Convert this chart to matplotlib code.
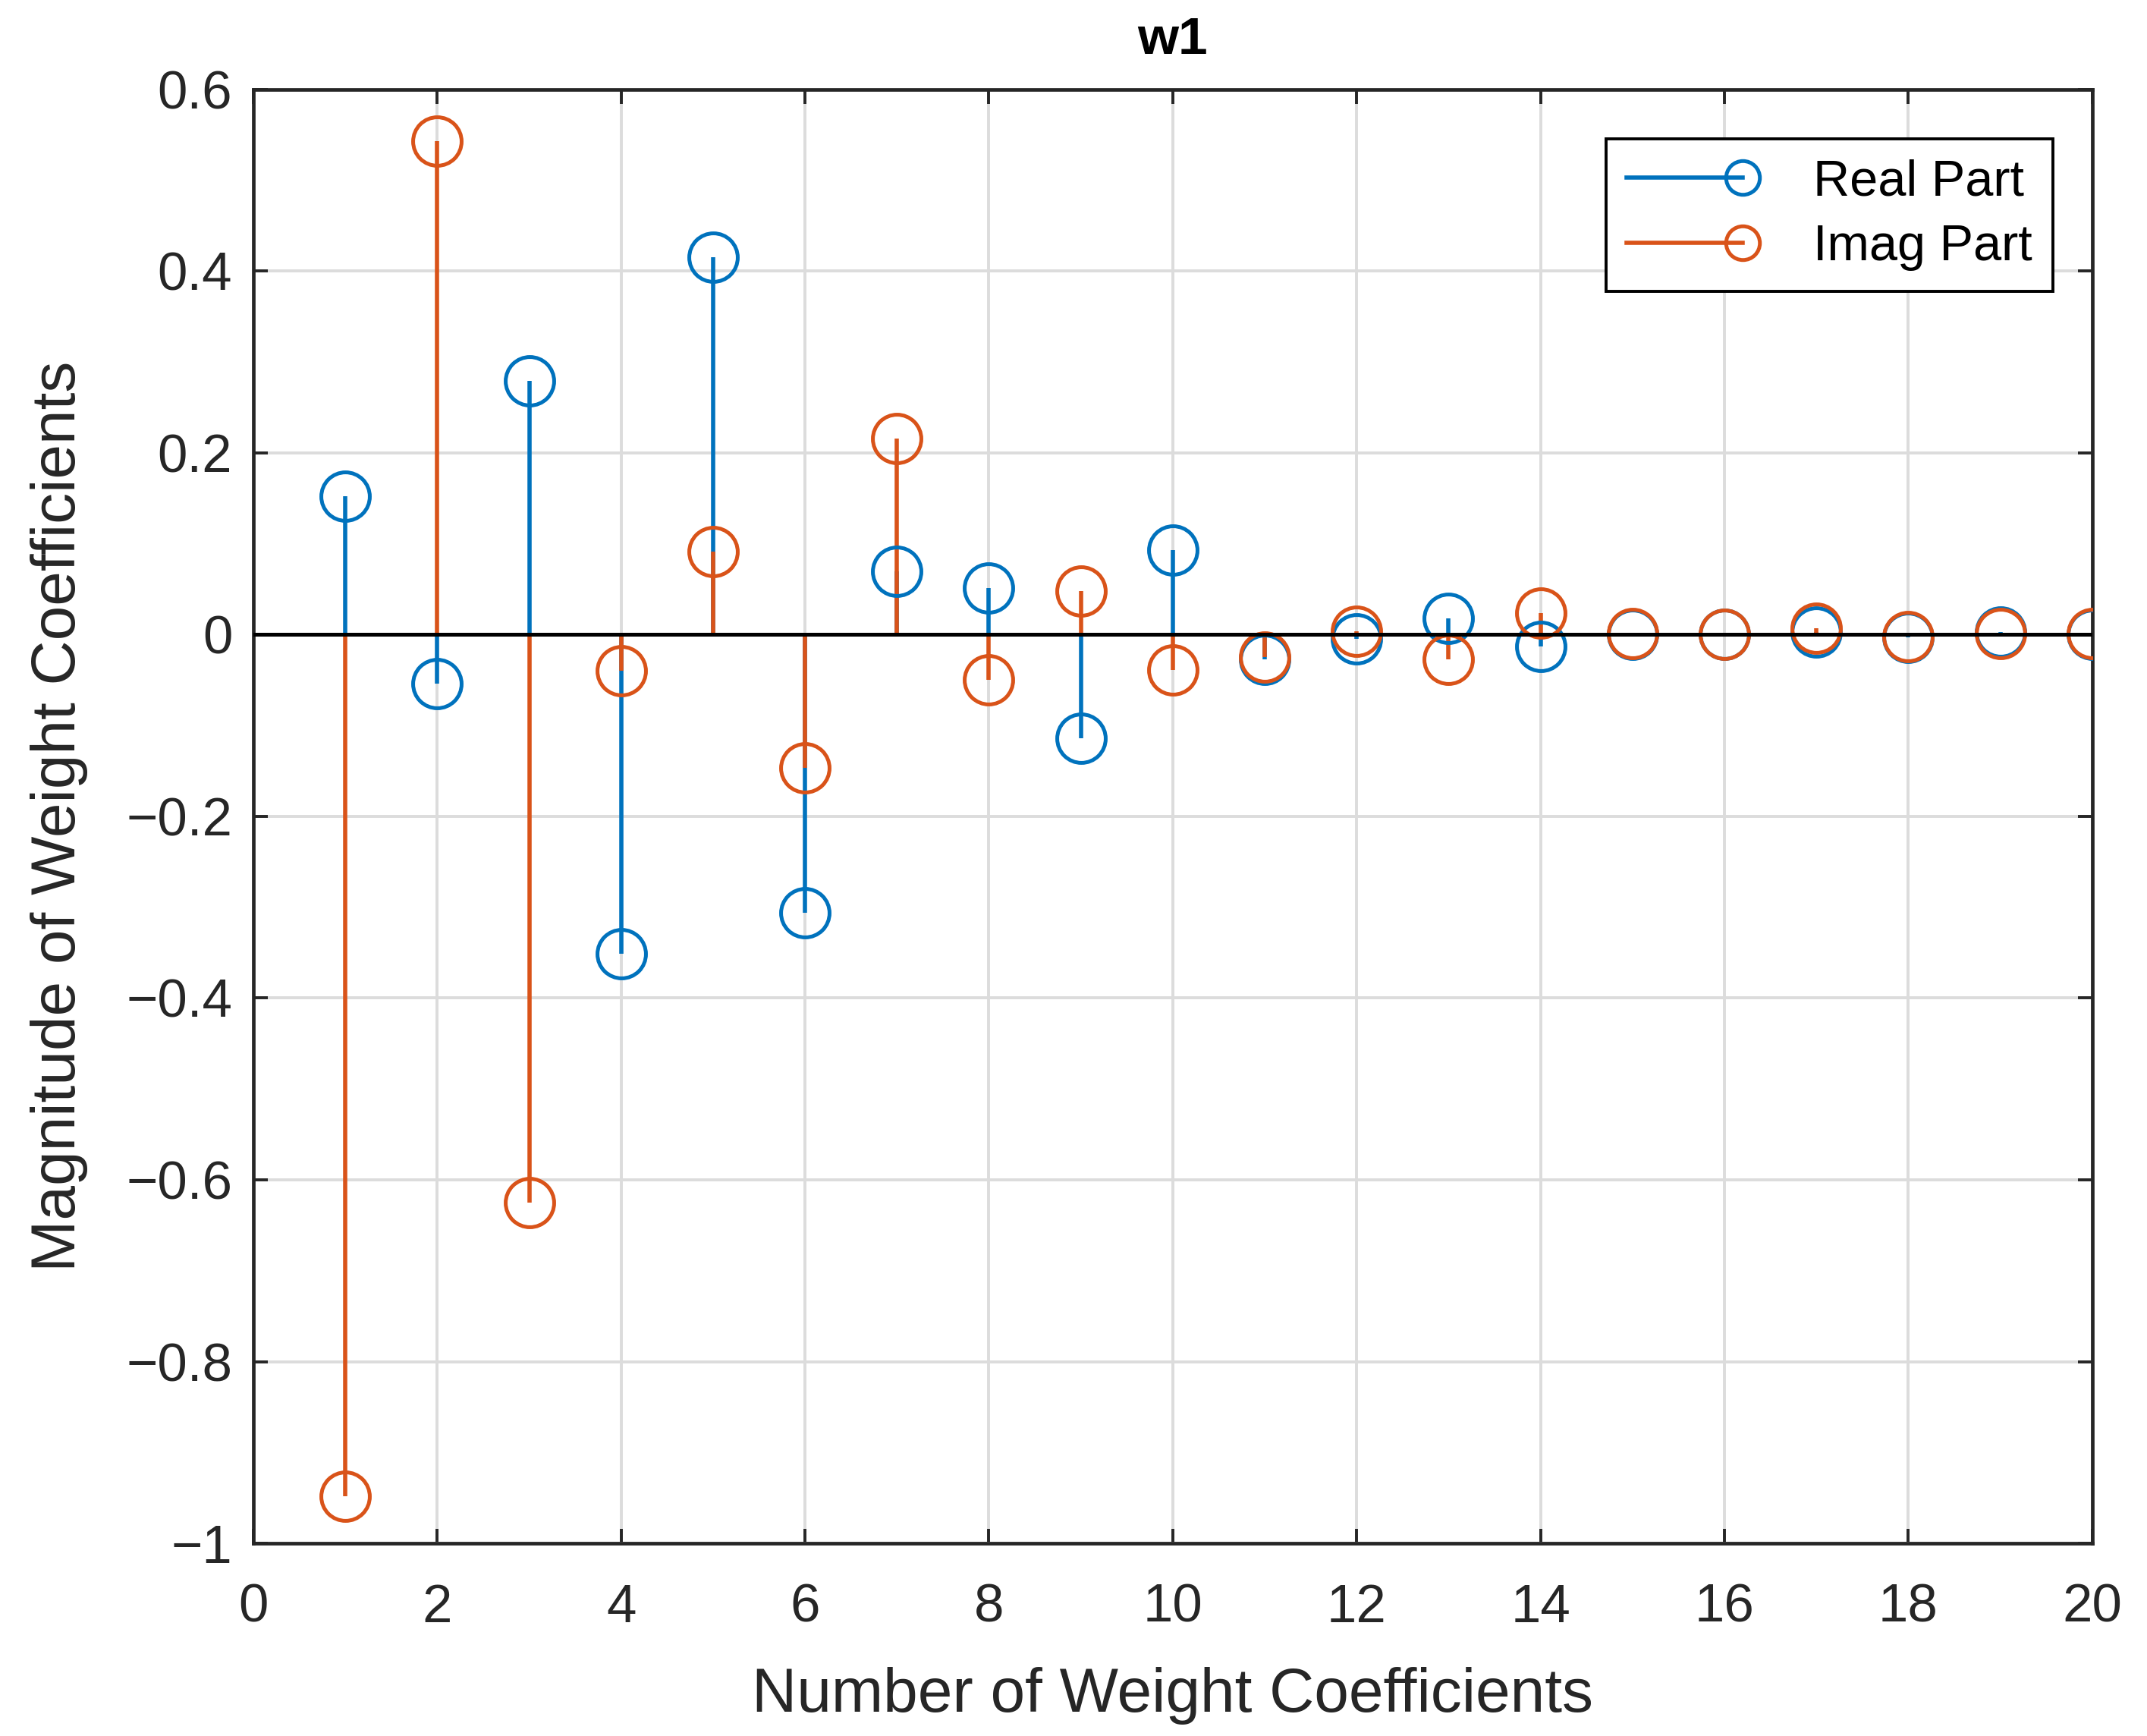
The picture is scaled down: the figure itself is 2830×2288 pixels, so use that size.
import matplotlib
matplotlib.use("Agg")
import matplotlib.pyplot as plt
from matplotlib.lines import Line2D
from matplotlib.legend_handler import HandlerBase

plt.rcParams['font.family'] = ['Liberation Sans', 'DejaVu Sans']

# ---- data ----
coef_index = list(range(1, 21))
real_part = [0.152, -0.054, 0.279, -0.351, 0.415, -0.306, 0.070, 0.051, -0.114, 0.093,
             -0.027, -0.005, 0.018, -0.013, 0.000, 0.000, 0.003, -0.003, 0.003, 0.000]
imag_part = [-0.948, 0.543, -0.625, -0.040, 0.091, -0.147, 0.216, -0.050, 0.048, -0.039,
             -0.025, 0.004, -0.027, 0.024, 0.001, 0.000, 0.007, -0.002, 0.001, 0.001]
x_ticks = [0, 2, 4, 6, 8, 10, 12, 14, 16, 18, 20]
y_ticks = [-1, -0.8, -0.6, -0.4, -0.2, 0, 0.2, 0.4, 0.6]
y_tick_labels = ['\u22121', '\u22120.8', '\u22120.6', '\u22120.4', '\u22120.2', '0', '0.2', '0.4', '0.6']
series_names = ['Real Part', 'Imag Part']

blue = '#0072BD'
orange = '#D95319'
axcol = '#262626'


class StemLegendHandler(HandlerBase):
    def create_artists(self, legend, orig_handle, xdescent, ydescent, width, height,
                       fontsize, trans):
        y = height / 2.0 - ydescent
        x0 = -xdescent
        x1 = -xdescent + width
        col = orig_handle.get_color()
        line = Line2D([x0, x1], [y, y], color=col, linewidth=orig_handle.get_linewidth())
        mk = Line2D([x1], [y], linestyle='none', marker='o',
                    markersize=orig_handle.get_markersize(),
                    markerfacecolor='none', markeredgecolor=col,
                    markeredgewidth=orig_handle.get_markeredgewidth())
        line.set_transform(trans)
        mk.set_transform(trans)
        return [line, mk]


fig = plt.figure(figsize=(14.15, 11.44), dpi=200)
ax = fig.add_axes([0.118, 0.111, 0.8565, 0.8375])

ms = 23
mew = 1.8
lw = 2.0
for vals, col in [(real_part, blue), (imag_part, orange)]:
    ml, sl, bl = ax.stem(coef_index, vals, basefmt=' ')
    plt.setp(sl, color=col, linewidth=lw, zorder=3)
    plt.setp(ml, marker='o', markersize=ms, markerfacecolor='none',
             markeredgecolor=col, markeredgewidth=mew, zorder=4)
    bl.set_visible(False)

ax.axhline(0, color='black', linewidth=1.8, zorder=5)

ax.set_xlim(0, 20)
ax.set_ylim(-1, 0.6)
ax.set_xticks(x_ticks)
ax.set_yticks(y_ticks)
ax.set_yticklabels(y_tick_labels)

ax.grid(True, color='#DCDCDC', linewidth=1.4)
ax.set_axisbelow(True)
ax.tick_params(direction='in', length=7, width=1.4, colors=axcol,
               labelsize=25.5, top=True, right=True, pad=10)
ax.tick_params(axis='x', pad=19)
for sp in ax.spines.values():
    sp.set_color(axcol)
    sp.set_linewidth(1.7)

ax.set_xlabel('Number of Weight Coefficients', fontsize=29.5, color=axcol, labelpad=16)
ax.set_ylabel('Magnitude of Weight Coefficients', fontsize=29.5, color=axcol, labelpad=18)
ax.set_title('w1', fontsize=25, fontweight='bold', color='black', pad=17)

handles = []
for name, col in zip(series_names, [blue, orange]):
    h = Line2D([0, 1], [0, 0], color=col, linewidth=lw, marker='o', markersize=16,
               markerfacecolor='none', markeredgecolor=col, markeredgewidth=mew,
               label=name)
    handles.append(h)
leg = ax.legend(handles=handles, loc='upper right', fontsize=24,
                handler_map={Line2D: StemLegendHandler()},
                frameon=True, fancybox=False, edgecolor='black', framealpha=1,
                borderpad=0.4, handlelength=2.3, handletextpad=1.4,
                bbox_to_anchor=(0.9785, 0.966), labelspacing=0.35, borderaxespad=0)
leg.get_frame().set_linewidth(1.4)
for t in leg.get_texts():
    t.set_color('black')

fig.savefig('out.png', dpi=200, facecolor='white')
